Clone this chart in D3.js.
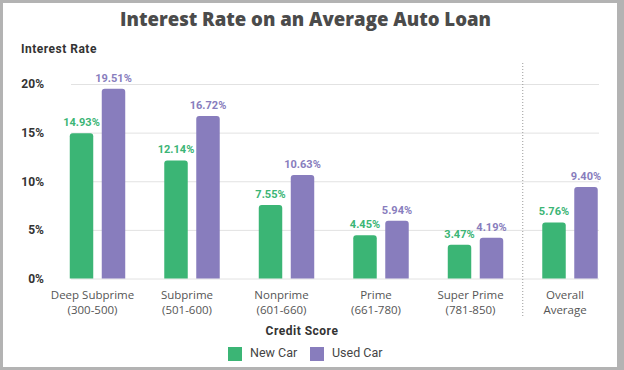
<!DOCTYPE html>
<html>
<head>
<meta charset="utf-8">
<script src="https://cdn.jsdelivr.net/npm/d3@7"></script>
<style>
  body { margin: 0; background: #b3b3b3; }
  svg { display: block; }
</style>
</head>
<body>
<div class="chart"></div>
<script>
// Chart data
const categories = ['Deep Subprime', 'Subprime', 'Nonprime', 'Prime', 'Super Prime', 'Overall'];
const categoryLines = [
  ['Deep Subprime', '(300-500)'],
  ['Subprime', '(501-600)'],
  ['Nonprime', '(601-660)'],
  ['Prime', '(661-780)'],
  ['Super Prime', '(781-850)'],
  ['Overall', 'Average'],
];
const seriesNames = ['New Car', 'Used Car'];
const newCar = [14.93, 12.14, 7.55, 4.45, 3.47, 5.76];
const usedCar = [19.51, 16.72, 10.63, 5.94, 4.19, 9.4];
const yTicks = [0, 5, 10, 15, 20];

const colors = { 'New Car': '#3bb575', 'Used Car': '#887dbd' };

// Size of SVG
const svgWidth = 624;
const svgHeight = 370;

const svg = d3
  .select('.chart')
  .append('svg')
  .attr('width', svgWidth)
  .attr('height', svgHeight);

// white card inside the gray frame
svg
  .append('rect')
  .attr('x', 3)
  .attr('y', 3)
  .attr('width', 614)
  .attr('height', 364)
  .attr('fill', '#ffffff');

// Title
svg
  .append('text')
  .attr('x', 305.5)
  .attr('y', 26)
  .attr('text-anchor', 'middle')
  .attr('font-family', 'Open Sans, sans-serif')
  .attr('font-weight', 800)
  .attr('font-size', 20)
  .attr('fill', '#4b4b4b')
  .attr('textLength', 371)
  .attr('lengthAdjust', 'spacingAndGlyphs')
  .text('Interest Rate on an Average Auto Loan');

// y axis title
svg
  .append('text')
  .attr('x', 21)
  .attr('y', 53)
  .attr('font-family', 'Roboto, sans-serif')
  .attr('font-weight', 700)
  .attr('font-size', 12)
  .attr('letter-spacing', 0.5)
  .attr('fill', '#333')
  .text('Interest Rate');

// Scales
const gridLeft = 71;
const gridRight = 599;

const yScale = d3.scaleLinear().domain([0, 20]).range([278.5, 84]);

const x0 = d3.scaleBand().domain(categories).range([50.25, 617.25]).padding(0);

const x1 = d3
  .scaleBand()
  .domain(seriesNames)
  .range([0, x0.bandwidth()])
  .paddingInner(0.266)
  .paddingOuter(0.61);

// y axis with gridlines
const yAxis = svg
  .append('g')
  .attr('transform', `translate(${gridLeft}, 0)`)
  .call(
    d3
      .axisLeft(yScale)
      .tickValues(yTicks)
      .tickSize(-(gridRight - gridLeft))
      .tickPadding(27)
      .tickFormat((d) => `${d}%`)
  );
yAxis.select('.domain').remove();
yAxis.selectAll('line').attr('stroke', '#e2e2e2').attr('stroke-width', 1);
yAxis
  .selectAll('text')
  .attr('font-family', 'Roboto, sans-serif')
  .attr('font-weight', 700)
  .attr('font-size', 12)
  .attr('fill', '#333');

// x axis labels
const xAxis = svg
  .append('g')
  .attr('transform', `translate(0, 287)`)
  .call(d3.axisBottom(x0).tickSize(0).tickPadding(0));
xAxis.select('.domain').remove();
xAxis.selectAll('text').each(function (d, i) {
  const t = d3.select(this).text(null).attr('y', 0).attr('dy', null);
  categoryLines[i].forEach((line, j) => {
    t.append('tspan')
      .attr('x', -5)
      .attr('y', 12 + j * 15)
      .text(line);
  });
});
xAxis
  .selectAll('text')
  .attr('font-family', 'Open Sans, sans-serif')
  .attr('font-size', 11.5)
  .attr('fill', '#555');

// dotted separator before the overall average
const sepX = x0('Overall');
svg
  .append('line')
  .attr('x1', sepX)
  .attr('x2', sepX)
  .attr('y1', 63)
  .attr('y2', 318)
  .attr('stroke', '#9a9a9a')
  .attr('stroke-width', 1)
  .attr('stroke-dasharray', '1,2');

// Bars with rounded tops
function topRounded(x, y, w, h, r) {
  return `M${x},${y + h}V${y + r}Q${x},${y} ${x + r},${y}H${x + w - r}Q${x + w},${y} ${x + w},${y + r}V${y + h}Z`;
}

const rows = categories.map((c, i) => ({
  cat: c,
  values: [
    { name: 'New Car', value: newCar[i] },
    { name: 'Used Car', value: usedCar[i] },
  ],
}));

const groups = svg
  .selectAll('.group')
  .data(rows)
  .enter()
  .append('g')
  .attr('class', 'group')
  .attr('transform', (d) => `translate(${x0(d.cat)}, 0)`);

groups
  .selectAll('path')
  .data((d) => d.values)
  .enter()
  .append('path')
  .attr('d', (d) =>
    topRounded(
      x1(d.name),
      yScale(d.value),
      x1.bandwidth(),
      yScale(0) - yScale(d.value),
      3
    )
  )
  .attr('fill', (d) => colors[d.name]);

// value labels
groups
  .selectAll('.val')
  .data((d) => d.values)
  .enter()
  .append('text')
  .attr('class', 'val')
  .attr('x', (d) => x1(d.name) + x1.bandwidth() / 2)
  .attr('y', (d) => yScale(d.value) - 7)
  .attr('text-anchor', 'middle')
  .attr('font-family', 'Roboto, sans-serif')
  .attr('font-weight', 700)
  .attr('font-size', 11)
  .attr('fill', (d) => colors[d.name])
  .text((d) => `${d.value.toFixed(2)}%`);

// x axis title
svg
  .append('text')
  .attr('x', 302)
  .attr('y', 335)
  .attr('text-anchor', 'middle')
  .attr('font-family', 'Roboto, sans-serif')
  .attr('font-weight', 700)
  .attr('font-size', 12)
  .attr('letter-spacing', 0.5)
  .attr('fill', '#333')
  .text('Credit Score');

// Legend
const legendX = [228, 310];
const legend = svg
  .selectAll('.legend')
  .data(seriesNames)
  .enter()
  .append('g')
  .attr('class', 'legend')
  .attr('transform', (d, i) => `translate(${legendX[i]}, 347)`);

legend
  .append('rect')
  .attr('width', 14)
  .attr('height', 14)
  .attr('fill', (d) => colors[d]);

legend
  .append('text')
  .attr('x', 22)
  .attr('y', 10)
  .attr('font-family', 'Roboto, sans-serif')
  .attr('font-size', 12.5)
  .attr('fill', '#444')
  .text((d) => d);
</script>
</body>
</html>
